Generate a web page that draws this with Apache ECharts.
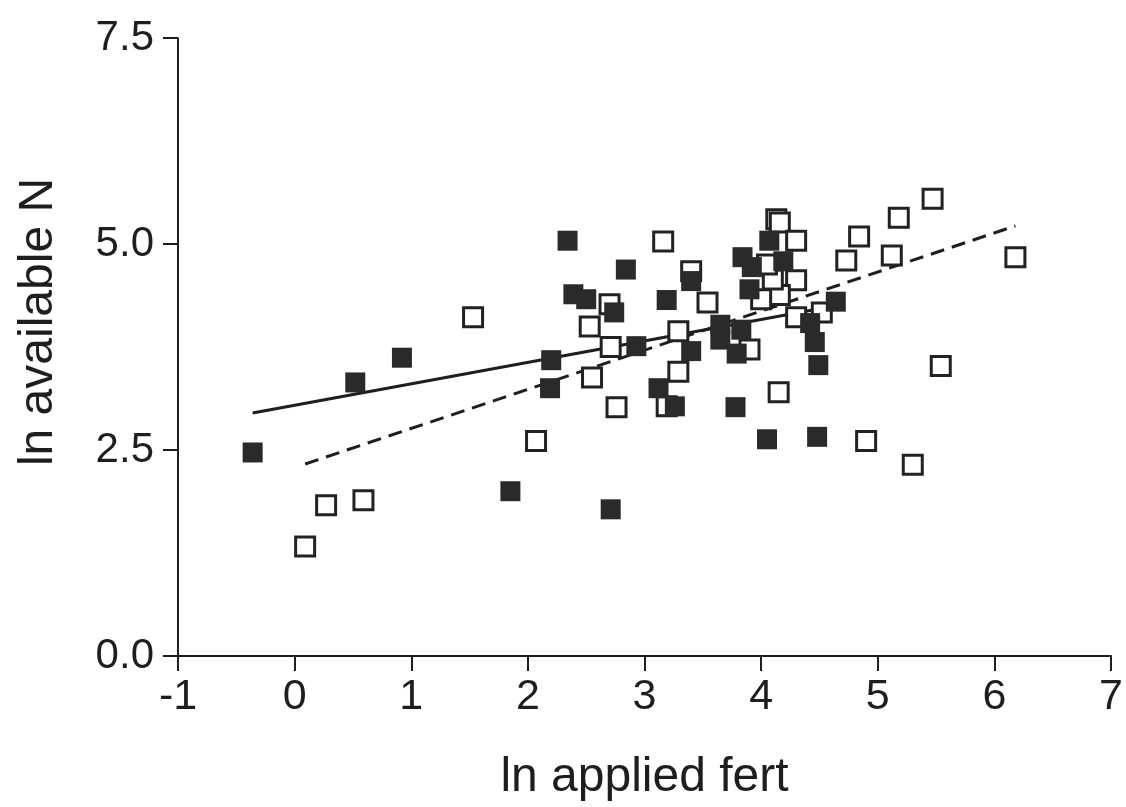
<!DOCTYPE html>
<html>
<head>
<meta charset="utf-8">
<title>ln available N vs ln applied fert</title>
<script src="https://cdn.jsdelivr.net/npm/echarts@6/dist/echarts.min.js"></script>
<style>
  html, body { margin: 0; padding: 0; background: #ffffff; }
  #chart { width: 1126px; height: 807px; }
</style>
</head>
<body>
<div id="chart"></div>
<script>
// Filled squares: ln applied fert (x) and ln available N (y)
const filledFert = [-0.36, 0.52, 0.92, 1.85, 2.20, 2.19, 2.34, 2.39, 2.50, 2.74, 2.84, 2.71,
  2.93, 3.19, 3.12, 3.26, 3.40, 3.40, 3.65, 3.65, 3.79, 3.78, 3.83, 3.84, 3.92, 3.90,
  4.07, 4.05, 4.19, 4.42, 4.46, 4.49, 4.48, 4.64];
const filledN = [2.47, 3.32, 3.62, 2.00, 3.59, 3.25, 5.04, 4.39, 4.33, 4.17, 4.69, 1.78,
  3.76, 4.32, 3.25, 3.03, 4.55, 3.70, 4.02, 3.84, 3.67, 3.02, 3.96, 4.84, 4.72, 4.45,
  5.04, 2.63, 4.79, 4.04, 3.81, 3.53, 2.66, 4.30];

// Open squares
const openFert = [0.09, 0.27, 0.59, 1.53, 2.07, 2.53, 2.55, 2.70, 2.71, 2.76, 3.16, 3.19,
  3.29, 3.29, 3.40, 3.54, 3.90, 4.15, 4.13, 4.16, 4.30, 4.30, 4.16, 4.00, 4.10, 4.05,
  4.30, 4.52, 4.84, 4.73, 4.90, 5.12, 5.18, 5.47, 5.54, 5.30, 6.18];
const openN = [1.33, 1.83, 1.89, 4.11, 2.61, 4.00, 3.38, 4.27, 3.75, 3.02, 5.03, 3.03,
  3.45, 3.94, 4.67, 4.29, 3.72, 3.20, 5.30, 5.26, 5.04, 4.56, 4.38, 4.33, 4.57, 4.75,
  4.11, 4.17, 5.09, 4.80, 2.61, 4.86, 5.32, 5.55, 3.52, 2.32, 4.84];

// Fitted lines (end points over each group's range)
const fitFilledX = [-0.36, 4.64];
const fitFilledY = [2.95, 4.25];
const fitOpenX = [0.09, 6.18];
const fitOpenY = [2.33, 5.22];

// Axis ticks
const xTicks = [-1, 0, 1, 2, 3, 4, 5, 6, 7];
const yTicks = [0, 2.5, 5, 7.5];

const zip = (xs, ys) => xs.map((x, i) => [x, ys[i]]);

const ink = '#1e1e1e';
const font = '"Liberation Sans", Arial, Helvetica, sans-serif';

const chart = echarts.init(document.getElementById('chart'), null, { renderer: 'canvas' });

chart.setOption({
  animation: false,
  backgroundColor: '#ffffff',
  grid: { left: 178, top: 38, right: 14, bottom: 150, containLabel: false },
  xAxis: {
    type: 'value',
    min: xTicks[0],
    max: xTicks[xTicks.length - 1],
    interval: 1,
    name: 'ln applied fert',
    nameLocation: 'middle',
    nameGap: 98,
    nameTextStyle: { fontFamily: font, fontSize: 48, color: ink },
    axisLine: { show: true, onZero: false, lineStyle: { color: ink, width: 2 } },
    axisTick: { show: true, inside: false, length: 15, lineStyle: { color: ink, width: 2 } },
    axisLabel: { fontFamily: font, fontSize: 43, color: ink, margin: 20 },
    splitLine: { show: false }
  },
  yAxis: {
    type: 'value',
    min: yTicks[0],
    max: yTicks[yTicks.length - 1],
    interval: 2.5,
    name: 'ln available N',
    nameLocation: 'middle',
    nameGap: 115,
    nameRotate: 90,
    nameTextStyle: { fontFamily: font, fontSize: 48, color: ink, padding: [0, 0, 0, 50] },
    axisLine: { show: true, onZero: false, lineStyle: { color: ink, width: 2 } },
    axisTick: { show: true, inside: false, length: 15, lineStyle: { color: ink, width: 2 } },
    axisLabel: {
      fontFamily: font, fontSize: 42, color: ink, margin: 24,
      formatter: v => v.toFixed(1)
    },
    splitLine: { show: false }
  },
  series: [
    {
      name: 'fit filled',
      type: 'line',
      data: zip(fitFilledX, fitFilledY),
      symbol: 'none',
      lineStyle: { color: ink, width: 3 },
      z: 3
    },
    {
      name: 'fit open',
      type: 'line',
      data: zip(fitOpenX, fitOpenY),
      symbol: 'none',
      lineStyle: { color: ink, width: 3, type: [14, 8] },
      z: 3
    },
    {
      name: 'open',
      type: 'scatter',
      data: zip(openFert, openN),
      symbol: 'rect',
      symbolSize: 19,
      itemStyle: { color: '#ffffff', borderColor: '#222222', borderWidth: 3, opacity: 1 },
      z: 4
    },
    {
      name: 'filled',
      type: 'scatter',
      data: zip(filledFert, filledN),
      symbol: 'rect',
      symbolSize: 20,
      itemStyle: { color: '#2a2a2a', opacity: 1 },
      z: 5
    }
  ]
});
</script>
</body>
</html>
